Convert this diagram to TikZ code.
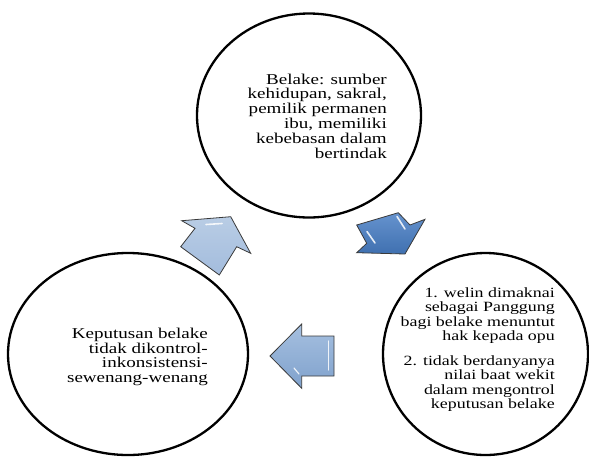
\documentclass[tikz,border=0pt]{standalone}
\usepackage{fontspec}
\setmainfont{Liberation Serif}[FakeStretch=1.27]
\usetikzlibrary{shapes.geometric}
\definecolor{uparrow}{HTML}{B9CDE5}
\definecolor{uparrowdark}{HTML}{A3BCDD}
\definecolor{downarrow}{HTML}{6693CE}
\definecolor{downarrowdark}{HTML}{3F70B0}
\definecolor{leftarrow}{HTML}{A6C0E0}
\definecolor{leftarrowdark}{HTML}{7FA1CC}
\definecolor{arrowedge}{HTML}{3A3A3A}
\tikzset{
  bubble/.style={ellipse, draw=black, line width=2.3pt, inner sep=0pt},
  bubbletext/.style={inner sep=0pt, align=right, font=\fontsize{15pt}{14.8pt}\selectfont},
  blockarrow/.style={draw=arrowedge, line width=0.8pt, line join=miter},
  shine/.style={draw=white, line width=1.6pt, line cap=round, opacity=0.85}
}
\begin{document}
\begin{tikzpicture}[x=1pt, y=-1pt]
\useasboundingbox (0,0) rectangle (589,456);
% circles
\node[bubble, minimum width=224pt, minimum height=204pt] (top) at (309,115.5) {};
\node[bubble, minimum width=240pt, minimum height=202pt] (left) at (128,354) {};
\node[bubble, minimum width=205pt, minimum height=202pt] (right) at (485.5,354) {};
% texts
\node[bubbletext, anchor=east] (toptext) at (387,116) {Belake: sumber\\kehidupan, sakral,\\pemilik permanen\\ibu, memiliki\\kebebasan dalam\\bertindak};
\node[bubbletext, anchor=east] (lefttext) at (208,357) {Keputusan belake\\tidak dikontrol-\\inkonsistensi-\\sewenang-wenang};
\node[bubbletext, anchor=east, font=\fontsize{14.1pt}{14.5pt}\selectfont] (righttext) at (555,349.5) {1. welin dimaknai\\sebagai Panggung\\bagi belake menuntut\\hak kepada opu\\[10pt]2. tidak berdanyanya\\nilai baat wekit\\dalam mengontrol\\keputusan belake};
% up-right arrow (left circle -> top circle)
\shade[blockarrow, top color=uparrow, bottom color=uparrowdark]
  (181.7,220.7) -- (230.7,216.7) -- (250.7,253.3) -- (236.7,246.7)
  -- (219.3,275) -- (180.7,246.7) -- (195,228.3) -- cycle;
\draw[shine] (206,224.5) -- (222,223.5);
% down-right arrow (top circle -> right circle)
\shade[blockarrow, top color=downarrow, bottom color=downarrowdark]
  (356.7,225) -- (398.3,212.7) -- (410,225) -- (425,219.3)
  -- (405,254) -- (356.7,252.7) -- (366.7,243.3) -- cycle;
\draw[shine] (397,216.5) -- (405,229);
\draw[shine] (367,231.5) -- (375,243);
% left arrow (right circle -> left circle)
\shade[blockarrow, top color=leftarrow, bottom color=leftarrowdark]
  (270,356) -- (301.7,324) -- (301.7,336) -- (334,336)
  -- (334,376) -- (301.7,376) -- (301.7,388.3) -- cycle;
\draw[shine, line width=1.2pt] (328.5,341) -- (328.5,370);
\draw[shine, line width=1.2pt] (294,368) -- (299,374);
\end{tikzpicture}
\end{document}
